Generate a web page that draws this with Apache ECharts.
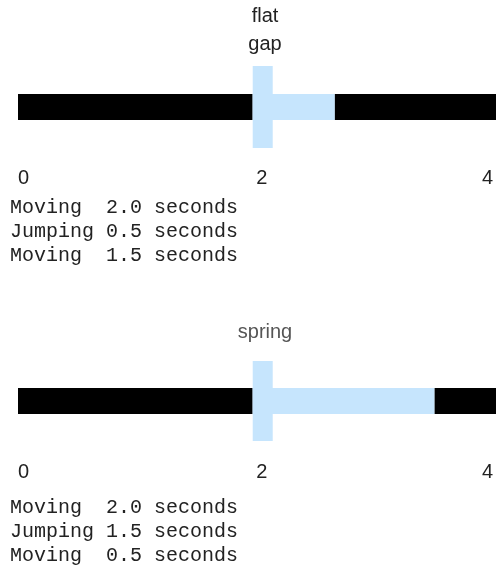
<!DOCTYPE html>
<html>
<head>
<meta charset="utf-8">
<script src="https://cdn.jsdelivr.net/npm/echarts@6/dist/echarts.min.js"></script>
<style>
  html, body { margin: 0; padding: 0; background: #fff; }
  #main { width: 496px; height: 586px; }
</style>
</head>
<body>
<div id="main"></div>
<script>
// axis ticks (seconds)
var ticks = [0, 2, 4];

// segments: [start, end] in seconds, and what the player does
var flatStarts = [0, 2, 2.7];
var flatEnds = [2, 2.7, 4.1];
var flatKinds = ['move', 'jump', 'move'];

var springStarts = [0, 2, 3.55];
var springEnds = [2, 3.55, 4.1];
var springKinds = ['move', 'jump', 'move'];

var flatTitle = 'flat\ngap';
var springTitle = 'spring';

var flatLog = ['Moving  2.0 seconds', 'Jumping 0.5 seconds', 'Moving  1.5 seconds'];
var springLog = ['Moving  2.0 seconds', 'Jumping 1.5 seconds', 'Moving  0.5 seconds'];

var moveColor = '#000000';
var jumpColor = '#c6e5fd';

function segData(starts, ends) {
    var out = [];
    for (var i = 0; i < starts.length; i++) {
        out.push([starts[i], ends[i]]);
    }
    return out;
}

function makeRender(kinds) {
    return function (params, api) {
        var a = api.coord([api.value(0), 0.5]);
        var b = api.coord([api.value(1), 0.5]);
        var top = api.coord([0, 1])[1];
        var bottom = api.coord([0, 0])[1];
        var kind = kinds[params.dataIndex];
        var children = [{
            type: 'rect',
            shape: { x: a[0], y: a[1] - 13, width: b[0] - a[0], height: 26 },
            style: { fill: kind === 'jump' ? jumpColor : moveColor }
        }];
        if (kind === 'jump') {
            // take-off post
            children.push({
                type: 'rect',
                shape: { x: a[0], y: top, width: 20, height: bottom - top },
                style: { fill: jumpColor }
            });
        }
        return { type: 'group', children: children };
    };
}

function xAxisFor(gridIndex, margin) {
    return {
        gridIndex: gridIndex,
        type: 'value',
        min: ticks[0],
        max: ticks[ticks.length - 1],
        interval: 2,
        axisLine: { show: false },
        axisTick: { show: false },
        splitLine: { show: false },
        axisLabel: {
            margin: margin,
            fontSize: 20,
            color: '#222',
            fontFamily: 'Liberation Sans, Arial, sans-serif',
            alignMinLabel: 'left',
            alignMaxLabel: 'center',
            formatter: function (v) {
                return v === 2 ? '{m|2}' : String(v);
            },
            rich: {
                m: { padding: [0, 0, 0, 18], fontSize: 20, color: '#222', fontFamily: 'Liberation Sans, Arial, sans-serif' }
            }
        }
    };
}

var chart = echarts.init(document.getElementById('main'));
var option = {
    animation: false,
    title: [
        {
            text: flatTitle, left: 265, top: 2, padding: 0, textAlign: 'center',
            textStyle: { fontSize: 20, fontWeight: 'normal', color: '#222', lineHeight: 28, fontFamily: 'Liberation Sans, Arial, sans-serif' }
        },
        {
            text: springTitle, left: 265, top: 318, padding: 0, textAlign: 'center',
            textStyle: { fontSize: 20, fontWeight: 'normal', color: '#555', lineHeight: 28, fontFamily: 'Liberation Sans, Arial, sans-serif' }
        },
        {
            text: flatLog.join('\n'), left: 10, top: 196, padding: 0,
            textStyle: { fontSize: 20, fontWeight: 'normal', color: '#222', lineHeight: 24, fontFamily: 'Liberation Mono, monospace' }
        },
        {
            text: springLog.join('\n'), left: 10, top: 496, padding: 0,
            textStyle: { fontSize: 20, fontWeight: 'normal', color: '#222', lineHeight: 24, fontFamily: 'Liberation Mono, monospace' }
        }
    ],
    grid: [
        { left: 18, width: 472, top: 66, height: 82 },
        { left: 18, width: 472, top: 361, height: 80 }
    ],
    xAxis: [xAxisFor(0, 20), xAxisFor(1, 21)],
    yAxis: [
        { gridIndex: 0, type: 'value', min: 0, max: 1, show: false },
        { gridIndex: 1, type: 'value', min: 0, max: 1, show: false }
    ],
    series: [
        {
            type: 'custom', xAxisIndex: 0, yAxisIndex: 0, clip: false,
            renderItem: makeRender(flatKinds),
            data: segData(flatStarts, flatEnds)
        },
        {
            type: 'custom', xAxisIndex: 1, yAxisIndex: 1, clip: false,
            renderItem: makeRender(springKinds),
            data: segData(springStarts, springEnds)
        }
    ]
};
chart.setOption(option);
</script>
</body>
</html>
